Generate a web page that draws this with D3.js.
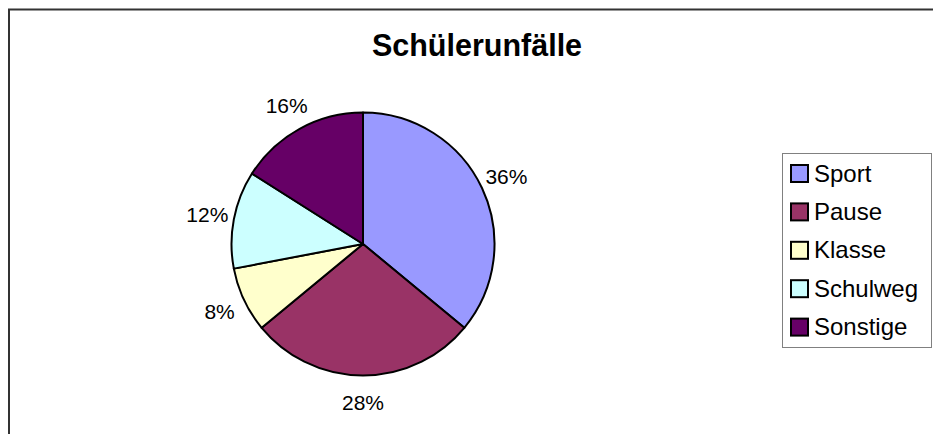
<!DOCTYPE html>
<html>
<head>
<meta charset="utf-8">
<script src="https://cdn.jsdelivr.net/npm/d3@7"></script>
<style>
  body { margin: 0; background: #fff; }
  svg { display: block; font-family: "Liberation Sans", Arial, sans-serif; }
</style>
</head>
<body>
<svg id="chart" width="933" height="434"></svg>
<script>
const categories = ["Sport", "Pause", "Klasse", "Schulweg", "Sonstige"];
const values = [36, 28, 8, 12, 16];
const colors = ["#9999FF", "#993366", "#FFFFCC", "#CCFFFF", "#660066"];

const svg = d3.select("#chart");
const cx = 363, cy = 244, radius = 131.5;

// chart area border (cropped at right and bottom)
svg.append("path")
    .attr("d", "M9,440 V9.5 H940")
    .attr("fill", "none")
    .attr("stroke", "#333")
    .attr("stroke-width", 2);

svg.append("text")
    .attr("x", 477)
    .attr("y", 56)
    .attr("text-anchor", "middle")
    .attr("font-size", 30.5)
    .attr("font-weight", "bold")
    .text("Schülerunfälle");

const data = categories.map((c, i) => ({ name: c, value: values[i], color: colors[i] }));
const pie = d3.pie().sort(null).value(d => d.value);
const arcs = pie(data);
const arc = d3.arc().innerRadius(0).outerRadius(radius);
const labelArc = d3.arc().innerRadius(radius + 27).outerRadius(radius + 27);

const g = svg.append("g").attr("transform", `translate(${cx},${cy})`);

g.selectAll("path.slice")
    .data(arcs)
    .enter().append("path")
    .attr("class", "slice")
    .attr("d", arc)
    .attr("fill", d => d.data.color)
    .attr("stroke", "#000")
    .attr("stroke-width", 2)
    .attr("stroke-linejoin", "round");

const total = d3.sum(values);
g.selectAll("text.lbl")
    .data(arcs)
    .enter().append("text")
    .attr("class", "lbl")
    .attr("transform", d => `translate(${labelArc.centroid(d)})`)
    .attr("text-anchor", "middle")
    .attr("dy", "0.36em")
    .attr("font-size", 21)
    .text(d => Math.round(d.data.value / total * 100) + "%");

// legend
const legend = svg.append("g").attr("transform", "translate(782,153)");
legend.append("rect")
    .attr("x", 0.5).attr("y", 0.5)
    .attr("width", 149).attr("height", 194)
    .attr("fill", "#fff")
    .attr("stroke", "#808080")
    .attr("stroke-width", 1);

const item = legend.selectAll("g.item")
    .data(data)
    .enter().append("g")
    .attr("class", "item")
    .attr("transform", (d, i) => `translate(0,${20 + i * 38.4})`);

item.append("rect")
    .attr("x", 9).attr("y", -8)
    .attr("width", 17).attr("height", 17)
    .attr("fill", d => d.color)
    .attr("stroke", "#000")
    .attr("stroke-width", 2);

item.append("text")
    .attr("x", 32)
    .attr("dy", "0.36em")
    .attr("font-size", 24)
    .text(d => d.name);
</script>
</body>
</html>
